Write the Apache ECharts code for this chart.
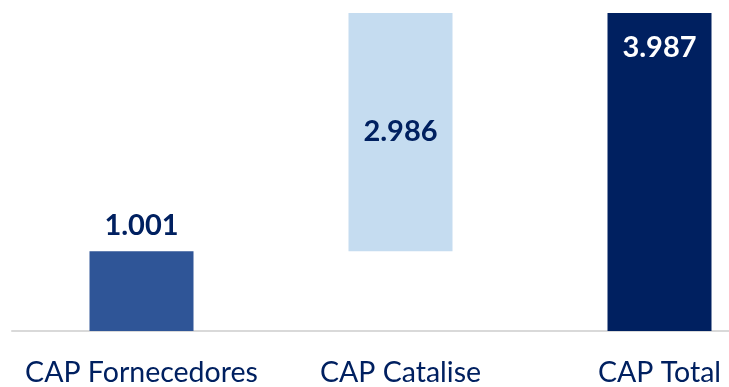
<!DOCTYPE html>
<html><head><meta charset="utf-8">
<script src="https://cdn.jsdelivr.net/npm/echarts@6/dist/echarts.min.js"></script>
<style>html,body{margin:0;padding:0;background:#fff;overflow:hidden;width:729px;height:387px}#c{width:800px;height:387px}</style>
</head><body><div id="c"></div>
<script>
const categories = ['CAP Fornecedores', 'CAP Catalise', 'CAP Total'];
const values = [1.001, 2.986, 3.987];
const isTotal = [false, false, true];
const colors = ['#2F5597', '#C5DCF0', '#002060'];

// waterfall base (invisible) computed from values
let run = 0;
const bases = values.map((v, i) => { if (isTotal[i]) return 0; const b = run; run += v; return b; });

const chart = echarts.init(document.getElementById('c'));
chart.setOption({
  animation: false,
  grid: { left: 12, top: 13, width: 777, height: 321, containLabel: false },
  xAxis: {
    type: 'category', data: categories,
    axisLine: { lineStyle: { color: '#D9D9D9', width: 2 } },
    axisTick: { show: false },
    axisLabel: { color: '#002060', fontFamily: 'Lato', fontSize: 28.5, margin: 27, interval: 0 }
  },
  yAxis: { type: 'value', min: 0, max: 3.987, show: false, splitLine: { show: false } },
  series: [
    { type: 'bar', stack: 'w', data: bases, itemStyle: { color: 'transparent' }, barWidth: 104, silent: true },
    { type: 'bar', stack: 'w', barWidth: 104,
      data: values.map((v, i) => ({
        value: v,
        itemStyle: { color: colors[i] },
        label: {
          show: true,
          position: i === 0 ? 'top' : (i === 1 ? 'inside' : 'insideTop'),
          distance: i === 0 ? 11 : (i === 2 ? 20 : 5),
          color: i === 2 ? '#FFFFFF' : '#002060',
          fontFamily: 'Lato', fontWeight: 'bold', fontSize: 29,
          formatter: () => v.toFixed(3)
        }
      }))
    }
  ]
});
</script></body></html>
